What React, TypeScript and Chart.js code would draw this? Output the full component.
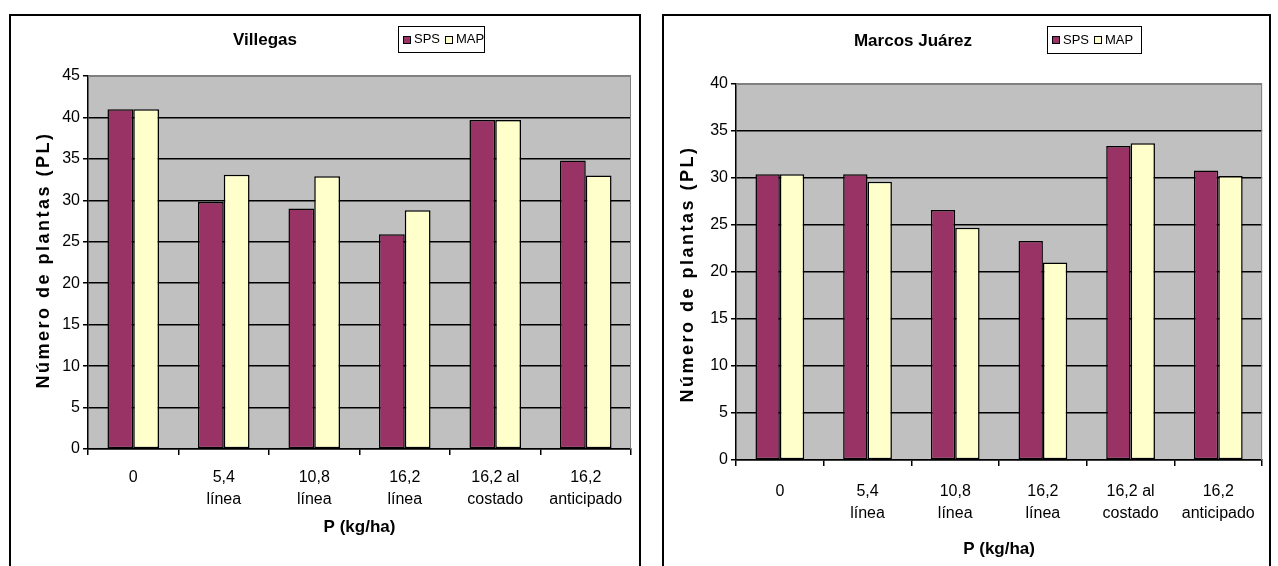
import React, { useEffect, useRef } from 'react';
import { Chart, registerables } from 'chart.js';
Chart.register(...registerables);

const categories: string[][] = [["0"], ["5,4", "línea"], ["10,8", "línea"], ["16,2", "línea"], ["16,2 al", "costado"], ["16,2", "anticipado"]];
const seriesNames = ["SPS", "MAP"];
const seriesColors = ["#993366", "#FFFFCC"];
const villegasSPS = [41, 29.8, 29, 25.9, 39.7, 34.8];
const villegasMAP = [41, 33.1, 32.9, 28.8, 39.7, 33];
const marcosSPS = [30.4, 30.4, 26.6, 23.3, 33.4, 30.8];
const marcosMAP = [30.4, 29.6, 24.7, 21.0, 33.7, 30.2];
const villegasMax = 45;
const marcosMax = 40;
const tickStep = 5;
const yTitle = "Número de plantas (PL)";
const xTitle = "P (kg/ha)";

const FONT = "'Liberation Sans', Arial, sans-serif";

type Spec = {
  title: string;
  sps: number[];
  map: number[];
  yMax: number;
  catPct: number;
  canvas: { left: number; top: number; width: number; height: number };
  plot: { left: number; right: number; top: number; bottom: number };
  titlePos: [number, number];
  legend: [number, number, number, number];
  yTitlePos: [number, number];
  xTitleY: number;
  xTickPad: number;
};

const panelPlugin = {
  id: 'panel',
  beforeDraw(chart: any) {
    const { ctx, chartArea: a } = chart;
    ctx.save();
    ctx.fillStyle = '#C0C0C0';
    ctx.fillRect(a.left, a.top, a.right - a.left, a.bottom - a.top);
    ctx.restore();
  },
  afterDatasetsDraw(chart: any) {
    const { ctx, chartArea: a } = chart;
    ctx.save();
    ctx.strokeStyle = '#808080';
    ctx.lineWidth = 1;
    ctx.beginPath();
    ctx.moveTo(a.left, a.top + 0.5);
    ctx.lineTo(a.right - 0.5, a.top + 0.5);
    ctx.lineTo(a.right - 0.5, a.bottom);
    ctx.stroke();
    ctx.restore();
  },
  afterDraw(chart: any, _args: any, opts: any) {
    const spec: Spec = opts.spec;
    const { ctx, chartArea: a } = chart;
    const cx = spec.canvas.left;
    const cy = spec.canvas.top;
    ctx.save();
    ctx.fillStyle = '#000';
    // chart title
    ctx.font = `bold 17px ${FONT}`;
    ctx.textAlign = 'center';
    ctx.textBaseline = 'middle';
    ctx.fillText(spec.title, spec.titlePos[0] - cx, spec.titlePos[1] - cy);
    // x title
    ctx.fillText(xTitle, (a.left + a.right) / 2, spec.xTitleY - cy);
    // y title
    ctx.save();
    ctx.translate(spec.yTitlePos[0] - cx, spec.yTitlePos[1] - cy);
    ctx.rotate(-Math.PI / 2);
    ctx.font = `bold 18px ${FONT}`;
    (ctx as any).letterSpacing = '2.5px';
    ctx.fillText(yTitle, 0, 0);
    ctx.restore();
    // legend
    const [lx0, ly0, lw, lh] = spec.legend;
    const lx = lx0 - cx;
    const ly = ly0 - cy;
    ctx.fillStyle = '#fff';
    ctx.fillRect(lx, ly, lw, lh);
    ctx.strokeStyle = '#000';
    ctx.lineWidth = 1;
    ctx.strokeRect(lx + 0.5, ly + 0.5, lw - 1, lh - 1);
    ctx.font = `13px ${FONT}`;
    ctx.textAlign = 'left';
    ctx.textBaseline = 'middle';
    const midY = ly + lh / 2;
    let x = lx + 5;
    chart.data.datasets.forEach((ds: any) => {
      const sy = Math.round(midY - 4);
      ctx.fillStyle = ds.backgroundColor;
      ctx.fillRect(x, sy, 8, 8);
      ctx.strokeStyle = '#000';
      ctx.strokeRect(x + 0.5, sy + 0.5, 7, 7);
      x += 11;
      ctx.fillStyle = '#000';
      ctx.fillText(ds.label, x, midY);
      x += ctx.measureText(ds.label).width + 5;
    });
    ctx.restore();
  },
};

function makeConfig(spec: Spec): any {
  const cx = spec.canvas.left;
  const cy = spec.canvas.top;
  const mkDs = (i: number, data: number[]) => ({
    label: seriesNames[i],
    data,
    backgroundColor: seriesColors[i],
    borderColor: '#000',
    borderWidth: 1.5,
    borderSkipped: false,
    categoryPercentage: spec.catPct,
    barPercentage: 1,
  });
  return {
    type: 'bar',
    data: {
      labels: categories,
      datasets: [mkDs(0, spec.sps), mkDs(1, spec.map)],
    },
    options: {
      animation: false,
      responsive: false,
      maintainAspectRatio: false,
      devicePixelRatio: 1,
      layout: {
        padding: {
          left: 0,
          top: spec.plot.top - cy,
          right: cx + spec.canvas.width - spec.plot.right,
          bottom: 0,
        },
      },
      plugins: {
        legend: { display: false },
        title: { display: false },
        tooltip: { enabled: false },
        panel: { spec },
      },
      scales: {
        x: {
          offset: true,
          grid: { offset: true, drawOnChartArea: false, drawTicks: true, tickLength: 6, color: '#000', lineWidth: 1.5 },
          border: { display: true, color: '#000', width: 1.5 },
          ticks: {
            color: '#000',
            font: { family: FONT, size: 16, lineHeight: 1.4 },
            padding: spec.xTickPad,
            maxRotation: 0,
            autoSkip: false,
          },
          afterFit: (s: any) => {
            s.height = cy + spec.canvas.height - spec.plot.bottom;
          },
        },
        y: {
          min: 0,
          max: spec.yMax,
          ticks: { stepSize: tickStep, color: '#000', font: { family: FONT, size: 16 }, padding: 3 },
          grid: {
            color: (c: any) => (c.tick && c.tick.value === spec.yMax ? '#808080' : '#000'),
            tickColor: '#000',
            lineWidth: 1.5,
            tickLength: 5,
            drawTicks: true,
          },
          border: { display: true, color: '#000', width: 1.5 },
          afterFit: (s: any) => {
            s.width = spec.plot.left - cx;
          },
        },
      },
    },
    plugins: [panelPlugin],
  };
}

const leftSpec: Spec = {
  title: 'Villegas',
  sps: villegasSPS,
  map: villegasMAP,
  yMax: villegasMax,
  catPct: 0.57,
  canvas: { left: 11, top: 16, width: 628, height: 552 },
  plot: { left: 88, right: 631, top: 76, bottom: 449 },
  titlePos: [265, 40],
  legend: [398, 26, 87, 27],
  yTitlePos: [44, 260],
  xTitleY: 527,
  xTickPad: 11,
};

const rightSpec: Spec = {
  title: 'Marcos Juárez',
  sps: marcosSPS,
  map: marcosMAP,
  yMax: marcosMax,
  catPct: 0.556,
  canvas: { left: 664, top: 16, width: 605, height: 552 },
  plot: { left: 736, right: 1266, top: 84, bottom: 460 },
  titlePos: [913, 41],
  legend: [1047, 26, 95, 28],
  yTitlePos: [688, 274],
  xTitleY: 549,
  xTickPad: 14,
};

function Panel({ spec }: { spec: Spec }) {
  const ref = useRef<HTMLCanvasElement | null>(null);
  useEffect(() => {
    if (!ref.current) return;
    const chart = new Chart(ref.current, makeConfig(spec));
    return () => chart.destroy();
  }, [spec]);
  return (
    <canvas
      ref={ref}
      width={spec.canvas.width}
      height={spec.canvas.height}
      style={{
        position: 'absolute',
        left: spec.canvas.left,
        top: spec.canvas.top,
        width: spec.canvas.width,
        height: spec.canvas.height,
        display: 'block',
      }}
    />
  );
}

export default function App() {
  return (
    <div
      style={{
        position: 'absolute',
        left: 0,
        top: 0,
        width: 1278,
        height: 566,
        overflow: 'hidden',
        background: '#fff',
      }}
    >
      <div
        style={{
          position: 'absolute',
          left: 9,
          top: 14,
          width: 632,
          height: 600,
          boxSizing: 'border-box',
          border: '2px solid #000',
        }}
      />
      <div
        style={{
          position: 'absolute',
          left: 662,
          top: 14,
          width: 609,
          height: 600,
          boxSizing: 'border-box',
          border: '2px solid #000',
        }}
      />
      <Panel spec={leftSpec} />
      <Panel spec={rightSpec} />
    </div>
  );
}
